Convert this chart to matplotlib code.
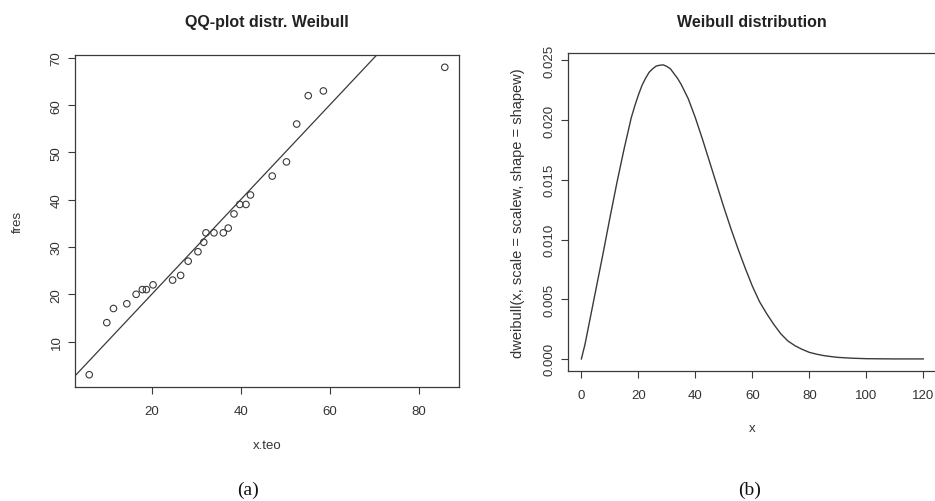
import numpy as np
import matplotlib.pyplot as plt

plt.rcParams['font.family'] = ['Liberation Sans', 'DejaVu Sans']

# QQ-plot: theoretical Weibull quantiles vs observed values
x_teo = [5.95, 9.9, 11.4, 14.4, 16.5, 17.9, 18.8, 20.3, 24.7, 26.5, 28.2,
         30.4, 31.7, 32.2, 34.0, 36.1, 37.2, 38.5, 39.8, 41.2, 42.2, 47.1,
         50.3, 52.6, 55.2, 58.6, 85.9]
fres = [3, 14, 17, 18, 20, 21, 21, 22, 23, 24, 27, 29, 31, 33, 33, 33, 34,
        37, 39, 39, 41, 45, 48, 56, 62, 63, 68]

# Weibull density
x_grid = [0, 1.25, 2.5, 5, 7.5, 10, 12.5, 15, 17.5, 18.75, 20, 21.25, 22.5,
          23.75, 25, 26.25, 27.5, 28.75, 30, 31.25, 32.5, 33.75, 35, 36.25,
          37.5, 38.75, 40, 42.5, 45, 47.5, 50, 52.5, 55, 57.5, 60, 62.5, 65,
          67.5, 70, 72.5, 75, 77.5, 80, 82.5, 85, 87.5, 90, 95, 100, 105,
          110, 115, 120]
dens = [0.0, 0.0012, 0.0027, 0.0057, 0.0087, 0.0118, 0.0148, 0.0176, 0.0202,
        0.0212, 0.0221, 0.0229, 0.0235, 0.0240, 0.0243, 0.02453, 0.0246,
        0.02463, 0.0245, 0.0243, 0.0239, 0.0235, 0.0230, 0.0224, 0.0218,
        0.0210, 0.0202, 0.0184, 0.0165, 0.0146, 0.0127, 0.0109, 0.0092,
        0.0076, 0.0061, 0.0048, 0.0038, 0.0029, 0.0021, 0.0015, 0.0011,
        0.0008, 0.00055, 0.0004, 0.00028, 0.0002, 0.00013, 0.00006, 0.00002,
        0.00001, 0.0, 0.0, 0.0]

ink = '#3a3a3a'
txt = '#333333'
W, H = 935, 502

fig = plt.figure(figsize=(W / 100, H / 100), dpi=100)


def r_axes(ax):
    for s in ax.spines.values():
        s.set_color(ink)
        s.set_linewidth(0.9)
    ax.tick_params(direction='out', length=5, width=0.8, color=ink,
                   labelsize=9.5, labelcolor=txt)
    ax.tick_params(axis='x', pad=8)
    ax.tick_params(axis='y', labelrotation=90, pad=4)
    for lab in ax.get_yticklabels():
        lab.set_va('center')


# (a) QQ-plot
ax1 = fig.add_axes([75 / W, 1 - 388 / H, 384 / W, 332 / H])
ax1.scatter(x_teo, fres, s=22, facecolors='none', edgecolors=ink,
            linewidths=0.8, zorder=3)
ax1.axline((0, 0), slope=1, color=ink, lw=0.9)
ax1.set_xlim(2.75, 89.1)
ax1.set_ylim(0.4, 70.6)
ax1.set_xticks([20, 40, 60, 80])
ax1.set_yticks([10, 20, 30, 40, 50, 60, 70])
r_axes(ax1)
ax1.set_xlabel('x.teo', fontsize=9.5, color=txt, labelpad=16)
ax1.set_ylabel('fres', fontsize=9.5, color=txt, labelpad=19)
ax1.set_title('QQ-plot distr. Weibull', fontsize=11.5, fontweight='bold',
              color='#222222', pad=21)

# (b) density
ax2 = fig.add_axes([567.7 / W, 1 - 371.7 / H, 369.3 / W, 318 / H])
ax2.plot(x_grid, dens, color=ink, lw=1.0)
ax2.set_xlim(-4.8, 124.8)
ax2.set_ylim(-0.000986, 0.02565)
ax2.set_xticks([0, 20, 40, 60, 80, 100, 120])
ax2.set_yticks([0, 0.005, 0.010, 0.015, 0.020, 0.025])
ax2.set_yticklabels(['0.000', '0.005', '0.010', '0.015', '0.020', '0.025'])
r_axes(ax2)
ax2.set_xlabel('x', fontsize=9.5, color=txt, labelpad=15)
ax2.set_ylabel('dweibull(x, scale = scalew, shape = shapew)', fontsize=10.5,
               color=txt, labelpad=13)
ax2.set_title('Weibull distribution', fontsize=11.5, fontweight='bold',
              color='#222222', pad=19)

fig.text(248 / W, 1 - 490 / H, '(a)', family='Liberation Serif', fontsize=14,
         ha='center', va='center', color='#111111')
fig.text(750 / W, 1 - 490 / H, '(b)', family='Liberation Serif', fontsize=14,
         ha='center', va='center', color='#111111')

fig.savefig('out.png', dpi=100)
